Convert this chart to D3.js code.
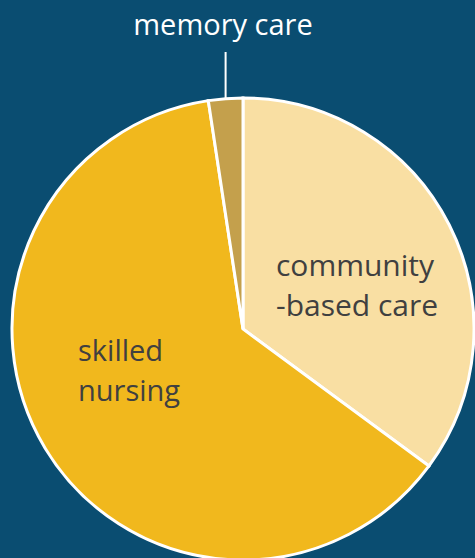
<!DOCTYPE html>
<html><head><meta charset="utf-8">
<script src="https://cdn.jsdelivr.net/npm/d3@7"></script>
<style>html,body{margin:0;padding:0;background:#0a4d71;overflow:hidden}</style>
</head><body>
<svg id="c" width="475" height="558"></svg>
<script>
const categories = ["community-based care", "skilled nursing", "memory care"];
const values = [35.1, 62.5, 2.4];
const colors = ["#f9dfa3", "#f1b81d", "#c4a04c"];
const labelLines = [["community", "-based care"], ["skilled", "nursing"], ["memory care"]];

const svg = d3.select("#c");
svg.append("rect").attr("width", 475).attr("height", 558).attr("fill", "#0a4d71");
const cx = 243, cy = 329, r = 231;
const g = svg.append("g").attr("transform", `translate(${cx},${cy})`);
const data = categories.map((c, i) => ({c, v: values[i], i}));
const pie = d3.pie().value(d => d.v).sort(null);
const arc = d3.arc().innerRadius(0).outerRadius(r);
const arcs = pie(data);
g.selectAll("path").data(arcs).join("path")
  .attr("d", arc).attr("fill", d => colors[d.data.i])
  .attr("stroke", "#fff").attr("stroke-width", 3).attr("stroke-linejoin", "miter");

const font = "'Open Sans', 'Noto Sans', sans-serif";
// community label
const t0 = svg.append("text").attr("font-family", font).attr("font-size", 30).attr("fill", "#404040");
labelLines[0].forEach((l, k) => t0.append("tspan").attr("x", 276).attr("y", 276 + k * 40).text(l));
const t1 = svg.append("text").attr("font-family", font).attr("font-size", 29).attr("fill", "#404040");
labelLines[1].forEach((l, k) => t1.append("tspan").attr("x", 78).attr("y", 361 + k * 40).text(l));
// memory care label with leader
const mArc = arcs[2];
const mid = (mArc.startAngle + mArc.endAngle) / 2;
const lx = cx + Math.sin(mid) * r;
svg.append("line").attr("x1", lx).attr("x2", lx).attr("y1", 52).attr("y2", cy - Math.cos(mid) * r)
  .attr("stroke", "#fff").attr("stroke-width", 2);
svg.append("text").attr("font-family", font).attr("font-size", 29).attr("fill", "#fff")
  .attr("text-anchor", "middle").attr("x", 223).attr("y", 35).text(labelLines[2][0]);
</script>
</body></html>
